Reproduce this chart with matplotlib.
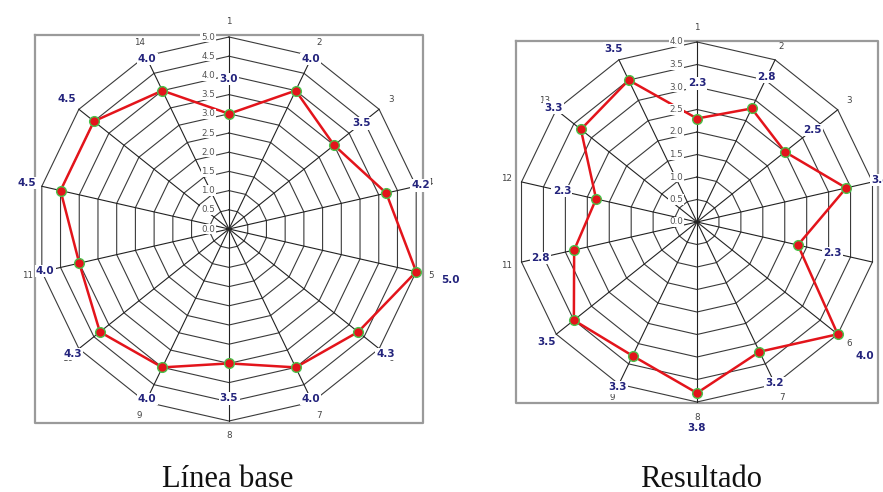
import numpy as np
import matplotlib
matplotlib.use("Agg")
import matplotlib.pyplot as plt

# Axis numbers 1..14 around each radar, clockwise from the top
axes_labels = [str(i) for i in range(1, 15)]

# Baseline scores (scale 0-5)
baseline_values = [3.0, 4.0, 3.5, 4.2, 5.0, 4.3, 4.0, 3.5, 4.0, 4.3, 4.0, 4.5, 4.5, 4.0]
baseline_max = 5.0

# Result scores (scale 0-4)
result_values = [2.3, 2.8, 2.5, 3.4, 2.3, 4.0, 3.2, 3.8, 3.3, 3.5, 2.8, 2.3, 3.3, 3.5]
result_max = 4.0

titles = ["Línea base", "Resultado"]

W, H = 883, 492
DPI = 100

RED = "#e3141b"
EDGE = "#49c24a"
NAVY = "#23237c"
GRID = "#3a3a3a"
FRAME = "#9a9a9a"


def radar(fig, values, vmax, cx, cy, radius_px, frame_half_px):
    """Draw a polygon radar centred at pixel (cx, cy) (y measured from top)."""
    s = radius_px / vmax  # pixels per data unit
    cy_b = H - cy
    ax = fig.add_axes([0, 0, 1, 1])
    ax.set_xlim(-cx / s, (W - cx) / s)
    ax.set_ylim(-cy_b / s, (H - cy_b) / s)
    ax.axis("off")
    ax.patch.set_visible(False)

    n = len(values)
    ang = np.arange(n) * 2 * np.pi / n
    ux, uy = np.sin(ang), np.cos(ang)

    # polygon rings every 0.5
    rings = np.arange(0.5, vmax + 0.01, 0.5)
    for r in rings:
        ax.plot(np.append(ux, ux[0]) * r, np.append(uy, uy[0]) * r,
                color=GRID, lw=0.8, zorder=1)
    # spokes
    for i in range(n):
        ax.plot([0, ux[i] * vmax], [0, uy[i] * vmax], color="#222222",
                lw=0.8, zorder=1)

    # square frame
    h = frame_half_px / s
    ax.plot([-h, h, h, -h, -h], [h, h, -h, -h, h], color=FRAME, lw=1.6,
            zorder=0.5)

    # data polygon
    v = np.asarray(values)
    ax.plot(np.append(ux * v, ux[0] * v[0]), np.append(uy * v, uy[0] * v[0]),
            color=RED, lw=1.8, zorder=3)
    ax.plot(ux * v, uy * v, "o", ms=7, mfc=RED, mec=EDGE, mew=1.0, zorder=4)

    # scale labels along the first spoke
    for r in np.arange(0, vmax + 0.01, 0.5):
        ax.text(-14 / s, r, f"{r:.1f}", ha="right", va="center", fontsize=6.3,
                color="#555555", zorder=5,
                bbox=dict(boxstyle="square,pad=0.08", fc="white", ec="none"))

    # axis numbers
    rn = vmax + 15 / s
    for i, lab in enumerate(axes_labels):
        ax.text(ux[i] * rn, uy[i] * rn, lab, ha="center", va="center",
                fontsize=6.3, color="#444444", zorder=5)

    # value labels
    for i, val in enumerate(values):
        rv = val + 35 / s
        ax.text(ux[i] * rv, uy[i] * rv, f"{val:.1f}", ha="center", va="center",
                fontsize=7.5, fontweight="bold", color=NAVY, zorder=6,
                bbox=dict(boxstyle="square,pad=0.12", fc="white", ec="none"))
    return ax


fig = plt.figure(figsize=(W / DPI, H / DPI), dpi=DPI)
fig.patch.set_facecolor("white")

radar(fig, baseline_values, baseline_max, 229, 229, 192, 194)
radar(fig, result_values, result_max, 697, 222, 180, 181)

fig.text(228 / W, (H - 487) / H, titles[0], ha="center", va="baseline",
         fontsize=22, family="Liberation Serif", color="#111111")
fig.text(701 / W, (H - 487) / H, titles[1], ha="center", va="baseline",
         fontsize=22, family="Liberation Serif", color="#111111")

fig.savefig("out.png", dpi=DPI, facecolor="white")
